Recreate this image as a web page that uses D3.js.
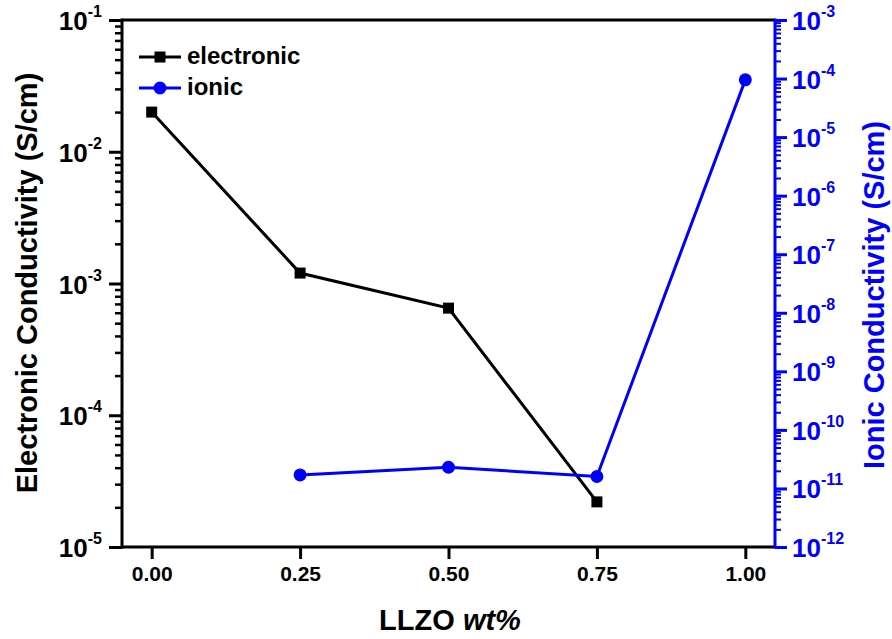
<!DOCTYPE html>
<html>
<head>
<meta charset="utf-8">
<script src="https://cdn.jsdelivr.net/npm/d3@7"></script>
<style>
  body { margin: 0; background: #fff; }
  svg { font-family: Arial, "Liberation Sans", sans-serif; font-weight: bold; }
</style>
</head>
<body>
<div id="chart"></div>
<script>
// data
const loadings = [0, 0.25, 0.5, 0.75, 1.0];
const electronic = [0.020, 1.2e-3, 6.5e-4, 2.2e-5, null];
const ionic = [null, 1.7e-11, 2.3e-11, 1.6e-11, 9.5e-5];
const xTicks = [0, 0.25, 0.5, 0.75, 1.0];
const leftExps = [-5, -4, -3, -2, -1];
const rightExps = [-12, -11, -10, -9, -8, -7, -6, -5, -4, -3];

const width = 892, height = 639;
const plotLeft = 122, plotRight = 775, plotTop = 20, plotBottom = 547;
const blue = "#0000ff";

const svg = d3.select("#chart").append("svg")
  .attr("width", width).attr("height", height);

const x = d3.scaleLinear().domain([-0.05, 1.05]).range([plotLeft, plotRight]);
const yL = d3.scaleLog().domain([1e-5, 1e-1]).range([plotBottom, plotTop]);
const yR = d3.scaleLog().domain([1e-12, 1e-3]).range([plotBottom, plotTop]);

// minor tick helper
function minors(exps) {
  const out = [];
  for (let i = 0; i < exps.length - 1; i++)
    for (let k = 2; k <= 9; k++) out.push(k * Math.pow(10, exps[i]));
  return out;
}
const majors = exps => exps.map(e => Math.pow(10, e));

function styleAxis(g, color, w) {
  g.select(".domain").remove();
  g.selectAll(".tick line").attr("stroke", color).attr("stroke-width", w);
}

// x axis
svg.append("g").attr("transform", `translate(0,${plotBottom})`)
  .call(d3.axisBottom(x).tickValues(xTicks).tickSize(12).tickFormat(d3.format(".2f")))
  .call(g => styleAxis(g, "#000", 3))
  .call(g => g.selectAll(".tick text").attr("y", 19).attr("dy", "0.71em")
    .attr("font-size", 21).attr("font-family", null).attr("fill", "#000"));

// left axis
svg.append("g").attr("transform", `translate(${plotLeft},0)`)
  .call(d3.axisLeft(yL).tickValues(minors(leftExps)).tickSize(7).tickFormat(""))
  .call(g => styleAxis(g, "#000", 2.5));
svg.append("g").attr("transform", `translate(${plotLeft},0)`)
  .call(d3.axisLeft(yL).tickValues(majors(leftExps)).tickSize(13).tickFormat(""))
  .call(g => styleAxis(g, "#000", 3));
leftExps.forEach(e => {
  const t = svg.append("text").attr("x", 102).attr("y", yL(Math.pow(10, e)) + 10)
    .attr("text-anchor", "end").attr("font-size", 26);
  t.append("tspan").text("10");
  t.append("tspan").attr("font-size", 16).attr("dy", -13).text(e);
});

// right axis
svg.append("g").attr("transform", `translate(${plotRight},0)`)
  .call(d3.axisRight(yR).tickValues(minors(rightExps)).tickSize(6).tickFormat(""))
  .call(g => styleAxis(g, blue, 2));
svg.append("g").attr("transform", `translate(${plotRight},0)`)
  .call(d3.axisRight(yR).tickValues(majors(rightExps)).tickSize(12).tickFormat(""))
  .call(g => styleAxis(g, blue, 3));
rightExps.forEach(e => {
  const t = svg.append("text").attr("x", 792).attr("y", yR(Math.pow(10, e)) + 10)
    .attr("fill", blue).attr("font-size", 26);
  t.append("tspan").text("10");
  t.append("tspan").attr("font-size", 16).attr("dy", -13).text(e);
});

// frame
svg.append("line").attr("x1", plotLeft).attr("x2", plotRight).attr("y1", plotTop).attr("y2", plotTop)
  .attr("stroke", "#000").attr("stroke-width", 3);
svg.append("line").attr("x1", plotLeft).attr("x2", plotRight).attr("y1", plotBottom).attr("y2", plotBottom)
  .attr("stroke", "#000").attr("stroke-width", 3);
svg.append("line").attr("x1", plotLeft).attr("x2", plotLeft).attr("y1", plotTop - 1.5).attr("y2", plotBottom + 1.5)
  .attr("stroke", "#000").attr("stroke-width", 3);
svg.append("line").attr("x1", plotRight).attr("x2", plotRight).attr("y1", plotTop - 1.5).attr("y2", plotBottom + 1.5)
  .attr("stroke", blue).attr("stroke-width", 3);

// series
const elecPts = loadings.map((d, i) => [d, electronic[i]]).filter(p => p[1] != null);
const ionPts = loadings.map((d, i) => [d, ionic[i]]).filter(p => p[1] != null);

svg.append("path").datum(elecPts)
  .attr("d", d3.line().x(d => x(d[0])).y(d => yL(d[1])))
  .attr("fill", "none").attr("stroke", "#000").attr("stroke-width", 3);
svg.append("path").datum(ionPts)
  .attr("d", d3.line().x(d => x(d[0])).y(d => yR(d[1])))
  .attr("fill", "none").attr("stroke", blue).attr("stroke-width", 3);

svg.selectAll("rect.el").data(elecPts).join("rect").attr("class", "el")
  .attr("x", d => x(d[0]) - 5.5).attr("y", d => yL(d[1]) - 5.5)
  .attr("width", 11).attr("height", 11).attr("fill", "#000");
svg.selectAll("circle.io").data(ionPts).join("circle").attr("class", "io")
  .attr("cx", d => x(d[0])).attr("cy", d => yR(d[1])).attr("r", 6.5)
  .attr("fill", blue);

// legend
const legend = [
  { name: "electronic", color: "#000", y: 57, shape: "square" },
  { name: "ionic", color: blue, y: 88, shape: "circle" }
];
legend.forEach(l => {
  svg.append("line").attr("x1", 139).attr("x2", 181).attr("y1", l.y).attr("y2", l.y)
    .attr("stroke", l.color).attr("stroke-width", 3);
  if (l.shape === "square")
    svg.append("rect").attr("x", 160 - 5.5).attr("y", l.y - 5.5)
      .attr("width", 11).attr("height", 11).attr("fill", l.color);
  else
    svg.append("circle").attr("cx", 160).attr("cy", l.y).attr("r", 6.5).attr("fill", l.color);
  svg.append("text").attr("x", 187).attr("y", l.y + 7).attr("font-size", 24)
    .attr("fill", "#000").text(l.name);
});

// axis titles
const xt = svg.append("text").attr("x", 450).attr("y", 630)
  .attr("text-anchor", "middle").attr("font-size", 29);
xt.append("tspan").text("LLZO ");
xt.append("tspan").attr("font-style", "italic").text("wt%");

svg.append("text").attr("transform", "translate(37,283) rotate(-90)")
  .attr("text-anchor", "middle").attr("font-size", 29)
  .text("Electronic Conductivity (S/cm)");
svg.append("text").attr("transform", "translate(884,295) rotate(-90)")
  .attr("text-anchor", "middle").attr("font-size", 29).attr("fill", blue)
  .text("Ionic Conductivity (S/cm)");
</script>
</body>
</html>
